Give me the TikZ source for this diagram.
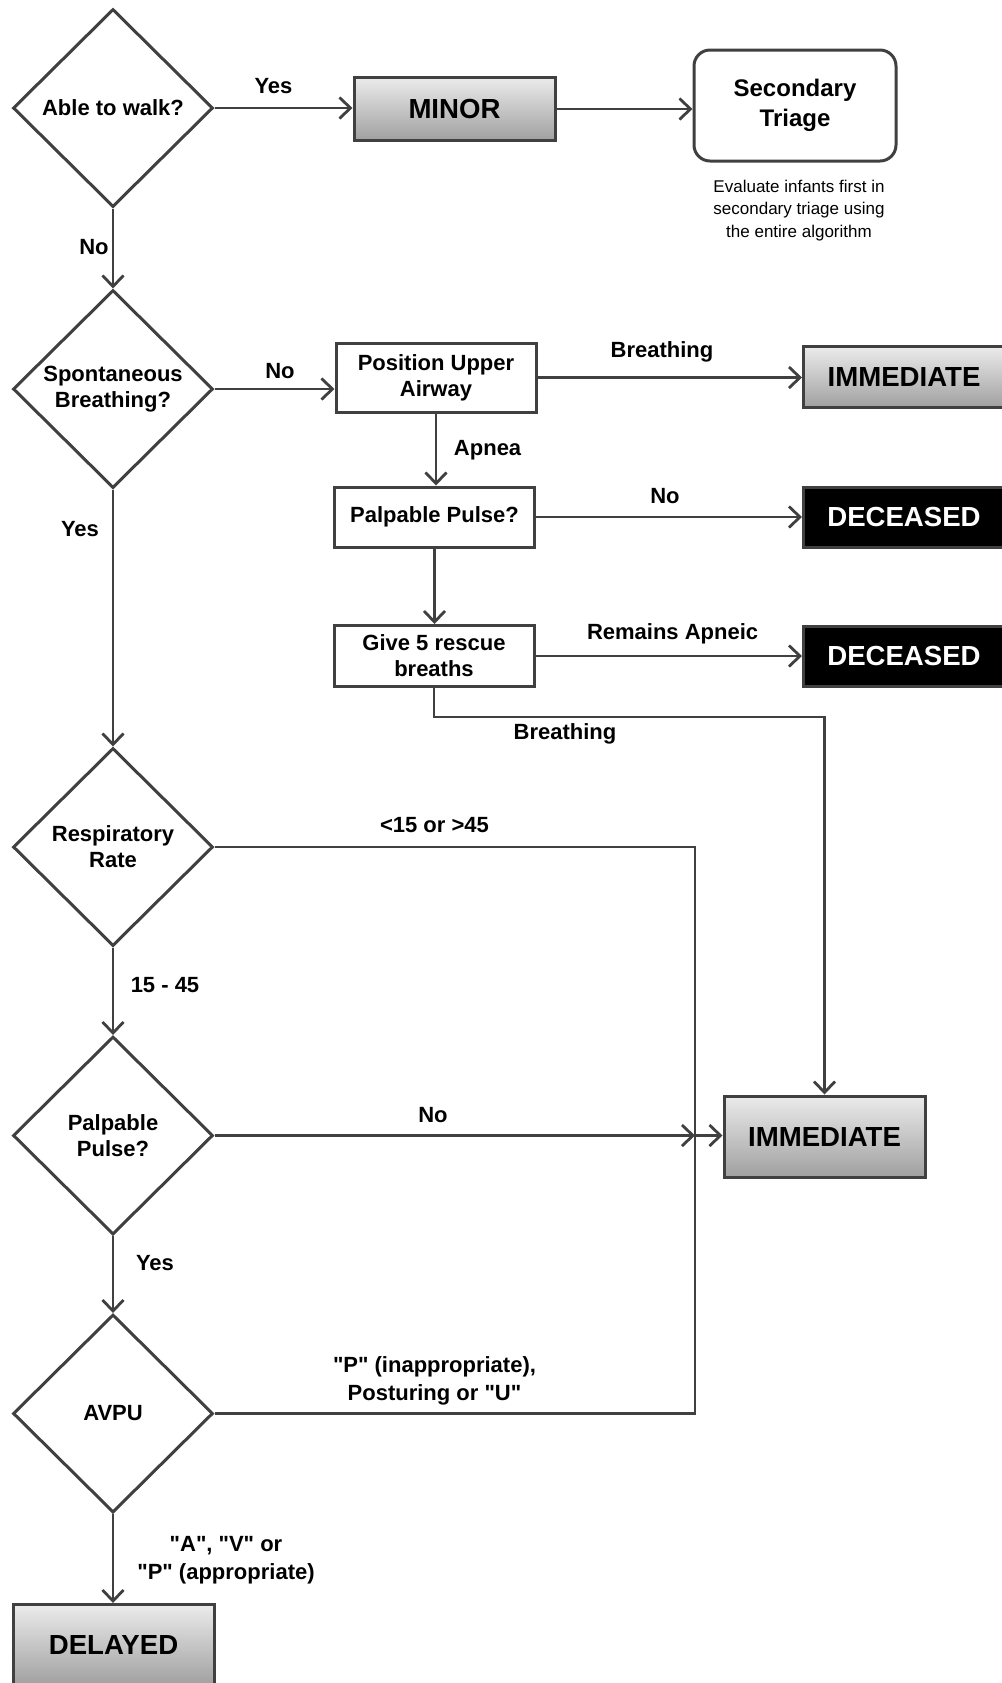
\documentclass[tikz,border=0pt]{standalone}
\usepackage{fontspec}
\setmainfont[Ligatures=TeXOff]{Liberation Sans}
\usepackage{xcolor,tikz}
\usetikzlibrary{arrows.meta,shapes.geometric}
\definecolor{edge}{HTML}{404040}
\definecolor{shadetop}{HTML}{EBEBEB}
\definecolor{shadebot}{HTML}{A0A0A0}

\begin{document}
\begin{tikzpicture}[x=0.5pt,y=-0.5pt,
  dec/.style={diamond,draw=edge,line width=1.5pt,fill=white,minimum width=100pt,minimum height=99pt,inner sep=0pt,align=center,font=\bfseries\fontsize{11}{13}\selectfont},
  stepbox/.style={rectangle,draw=edge,line width=1.5pt,fill=white,minimum width=100pt,align=center,font=\bfseries\fontsize{11}{13}\selectfont},
  grade/.style={rectangle,draw=edge,line width=1.5pt,top color=shadetop,bottom color=shadebot,minimum width=100.5pt,font=\bfseries\fontsize{13.8}{16}\selectfont},
  dead/.style={rectangle,draw=edge,line width=1.5pt,fill=black,text=white,minimum width=100.5pt,minimum height=30pt,font=\bfseries\fontsize{13.8}{16}\selectfont},
  lbl/.style={font=\bfseries\fontsize{11}{14}\selectfont,align=center},
  conn/.style={draw=edge,line width=1.4pt,-{Straight Barb[length=5.5pt,width=10.5pt]}},
  wire/.style={draw=edge,line width=1.4pt}]
\path[use as bounding box,fill=white] (0,0) rectangle (1002,1683);
\node[dec] (walk) at (113,108) {Able to walk?};
\node[grade,minimum height=31.5pt] (minor) at (454.5,109) {MINOR};
\node[rectangle,rounded corners=8pt,draw=edge,line width=1.5pt,minimum width=101pt,minimum height=55.5pt,align=center,font=\bfseries\fontsize{12}{15}\selectfont] (second) at (795,105.5) {Secondary\\Triage};
\node[align=center,font=\fontsize{8.5}{11.25}\selectfont] (infants) at (799,210.5) {Evaluate infants first in\\secondary triage using\\the entire algorithm};
\node[dec] (spont) at (113,389) {Spontaneous\\Breathing?};
\node[stepbox,minimum height=34.5pt] (airway) at (436,377.5) {Position Upper\\Airway};
\node[grade,minimum height=30.5pt] (immtop) at (904,377) {IMMEDIATE};
\node[stepbox,minimum height=30pt] (pulsebox) at (434.5,517) {Palpable Pulse?};
\node[dead] (dead1) at (904,517) {DECEASED};
\node[stepbox,minimum height=30.5pt] (rescue) at (434,656) {Give 5 rescue\\breaths};
\node[dead] (dead2) at (904,656) {DECEASED};
\node[dec] (resp) at (113,847) {Respiratory\\Rate};
\node[dec] (pulse) at (113,1135.5) {Palpable\\Pulse?};
\node[grade,minimum height=40.5pt] (immbig) at (824.5,1136.5) {IMMEDIATE};
\node[dec] (avpu) at (113,1413.5) {AVPU};
\node[grade,minimum height=40.5pt] (delayed) at (113.5,1645) {DELAYED};
\coordinate (turn) at (824.5,717);
\coordinate (rail) at (695,1135.5);
\foreach \a/\b in {walk/spont,spont/resp,resp/pulse,pulse/avpu,avpu/delayed,airway/pulsebox,pulsebox/rescue}{\draw[conn] (\a.south) -- (\a.south |- \b.north);}
\foreach \a/\b in {walk/minor,minor/second,spont/airway,airway/immtop,pulsebox/dead1,rescue/dead2}{\draw[conn] (\a.east) -- (\a.east -| \b.west);}
\draw[conn] (rescue.south) |- (turn) -- (immbig.north);
\draw[wire] (resp.east) -| (rail);
\draw[wire] (avpu.east) -| (rail);
\draw[conn] (pulse.east) -- (rail);
\draw[conn] (rail) -- (rail -| immbig.west);
\foreach \n/\x/\y/\t in {yeswalk/273.5/86/Yes,nowalk/94/247/No,nospont/280/371/No,breathtop/662/352/Breathing,apnea/487.6/450.6/Apnea,nopulse/665/495.6/No,apneic/672.6/634/Remains Apneic,breathlow/565/734/Breathing,yesspont/80/529/Yes,rateout/434.5/825/<15 or >45,ratein/165/985/15 - 45,nopalp/433/1114.6/No,yespalp/155/1262.7/Yes}{\node[lbl] (\n) at (\x,\y) {\t};}
\node[lbl] (avpuout) at (434.5,1381) {"P" (inappropriate),\\Posturing or "U"};
\node[lbl] (avpuin) at (226,1560.5) {"A", "V" or\\"P" (appropriate)};
\end{tikzpicture}
\end{document}
